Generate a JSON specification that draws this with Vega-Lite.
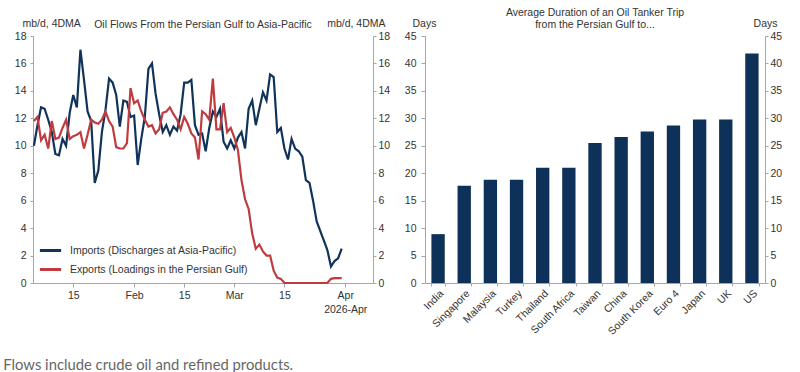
{
  "$schema": "https://vega.github.io/schema/vega-lite/v6.json",
  "background": "white",
  "padding": {"left": 3, "top": 8, "right": 0, "bottom": 0},
  "bounds": "flush",
  "spacing": 52,
  "config": {
    "view": {"stroke": null},
    "font": "Liberation Sans",
    "axis": {
      "labelFont": "Liberation Sans", "labelFontSize": 10.5, "labelColor": "#333333",
      "titleFont": "Liberation Sans", "titleFontSize": 10.5, "titleFontWeight": "normal", "titleColor": "#333333",
      "domainColor": "#a6a6a6", "tickColor": "#a6a6a6", "grid": false, "tickSize": 3
    },
    "title": {"font": "Liberation Sans", "fontSize": 10.5, "fontWeight": "normal", "color": "#333333"}
  },
  "title": {
    "text": "Flows include crude oil and refined products.",
    "orient": "bottom", "anchor": "start", "frame": "bounds",
    "font": "Lato", "fontSize": 14.8, "color": "#666666", "offset": 21, "dx": -11
  },
  "datasets": {
    "flows": [
      {"date": "2026-01-04", "imports": 10.0, "exports": 11.8},
      {"date": "2026-01-05", "imports": 11.5, "exports": 12.1},
      {"date": "2026-01-06", "imports": 12.8, "exports": 10.4},
      {"date": "2026-01-07", "imports": 12.7, "exports": 10.8},
      {"date": "2026-01-08", "imports": 11.9, "exports": 9.8},
      {"date": "2026-01-09", "imports": 11.0, "exports": 11.8},
      {"date": "2026-01-10", "imports": 9.4, "exports": 10.5},
      {"date": "2026-01-11", "imports": 9.3, "exports": 10.6},
      {"date": "2026-01-12", "imports": 10.5, "exports": 11.3},
      {"date": "2026-01-13", "imports": 10.0, "exports": 11.9},
      {"date": "2026-01-14", "imports": 12.4, "exports": 10.5},
      {"date": "2026-01-15", "imports": 13.7, "exports": 10.7},
      {"date": "2026-01-16", "imports": 12.8, "exports": 10.8},
      {"date": "2026-01-17", "imports": 17.0, "exports": 11.0},
      {"date": "2026-01-18", "imports": 14.8, "exports": 9.8},
      {"date": "2026-01-19", "imports": 12.5, "exports": 10.8},
      {"date": "2026-01-20", "imports": 11.8, "exports": 11.9},
      {"date": "2026-01-21", "imports": 7.3, "exports": 11.7},
      {"date": "2026-01-22", "imports": 8.2, "exports": 11.6},
      {"date": "2026-01-23", "imports": 11.0, "exports": 11.9},
      {"date": "2026-01-24", "imports": 12.6, "exports": 12.5},
      {"date": "2026-01-25", "imports": 14.9, "exports": 11.8},
      {"date": "2026-01-26", "imports": 14.6, "exports": 11.4},
      {"date": "2026-01-27", "imports": 13.7, "exports": 9.9},
      {"date": "2026-01-28", "imports": 11.4, "exports": 9.8},
      {"date": "2026-01-29", "imports": 13.3, "exports": 9.8},
      {"date": "2026-01-30", "imports": 13.2, "exports": 10.2},
      {"date": "2026-01-31", "imports": 12.1, "exports": 14.2},
      {"date": "2026-02-01", "imports": 12.2, "exports": 13.1},
      {"date": "2026-02-02", "imports": 8.6, "exports": 13.3},
      {"date": "2026-02-03", "imports": 10.5, "exports": 12.5},
      {"date": "2026-02-04", "imports": 12.1, "exports": 11.9},
      {"date": "2026-02-05", "imports": 15.6, "exports": 11.4},
      {"date": "2026-02-06", "imports": 16.0, "exports": 11.5},
      {"date": "2026-02-07", "imports": 13.8, "exports": 10.9},
      {"date": "2026-02-08", "imports": 12.3, "exports": 11.2},
      {"date": "2026-02-09", "imports": 11.0, "exports": 12.4},
      {"date": "2026-02-10", "imports": 11.5, "exports": 12.5},
      {"date": "2026-02-11", "imports": 10.8, "exports": 12.8},
      {"date": "2026-02-12", "imports": 11.4, "exports": 12.3},
      {"date": "2026-02-13", "imports": 11.1, "exports": 11.9},
      {"date": "2026-02-14", "imports": 12.3, "exports": 11.2},
      {"date": "2026-02-15", "imports": 14.6, "exports": 12.1},
      {"date": "2026-02-16", "imports": 14.6, "exports": 11.6},
      {"date": "2026-02-17", "imports": 14.8, "exports": 10.9},
      {"date": "2026-02-18", "imports": 11.5, "exports": 10.6},
      {"date": "2026-02-19", "imports": 10.8, "exports": 9.0},
      {"date": "2026-02-20", "imports": 10.9, "exports": 12.5},
      {"date": "2026-02-21", "imports": 9.6, "exports": 12.3},
      {"date": "2026-02-22", "imports": 11.3, "exports": 11.9},
      {"date": "2026-02-23", "imports": 12.5, "exports": 14.9},
      {"date": "2026-02-24", "imports": 12.1, "exports": 11.2},
      {"date": "2026-02-25", "imports": 12.7, "exports": 11.2},
      {"date": "2026-02-26", "imports": 10.3, "exports": 13.1},
      {"date": "2026-02-27", "imports": 9.8, "exports": 11.0},
      {"date": "2026-02-28", "imports": 10.4, "exports": 11.3},
      {"date": "2026-03-01", "imports": 9.8, "exports": 10.6},
      {"date": "2026-03-02", "imports": 10.6, "exports": 9.7},
      {"date": "2026-03-03", "imports": 11.0, "exports": 7.5},
      {"date": "2026-03-04", "imports": 9.8, "exports": 6.1},
      {"date": "2026-03-05", "imports": 12.7, "exports": 5.4},
      {"date": "2026-03-06", "imports": 13.3, "exports": 3.6},
      {"date": "2026-03-07", "imports": 11.5, "exports": 2.5},
      {"date": "2026-03-08", "imports": 12.7, "exports": 2.8},
      {"date": "2026-03-09", "imports": 13.9, "exports": 2.3},
      {"date": "2026-03-10", "imports": 13.3, "exports": 2.0},
      {"date": "2026-03-11", "imports": 15.2, "exports": 2.0},
      {"date": "2026-03-12", "imports": 15.0, "exports": 0.9},
      {"date": "2026-03-13", "imports": 11.0, "exports": 0.4},
      {"date": "2026-03-14", "imports": 11.3, "exports": 0.3},
      {"date": "2026-03-15", "imports": 9.8, "exports": 0},
      {"date": "2026-03-16", "imports": 9.0, "exports": 0},
      {"date": "2026-03-17", "imports": 10.5, "exports": 0},
      {"date": "2026-03-18", "imports": 9.8, "exports": 0},
      {"date": "2026-03-19", "imports": 9.6, "exports": 0},
      {"date": "2026-03-20", "imports": 9.2, "exports": 0},
      {"date": "2026-03-21", "imports": 7.5, "exports": 0},
      {"date": "2026-03-22", "imports": 7.3, "exports": 0},
      {"date": "2026-03-23", "imports": 6.0, "exports": 0},
      {"date": "2026-03-24", "imports": 4.5, "exports": 0},
      {"date": "2026-03-25", "imports": 3.8, "exports": 0},
      {"date": "2026-03-26", "imports": 3.1, "exports": 0},
      {"date": "2026-03-27", "imports": 2.4, "exports": 0},
      {"date": "2026-03-28", "imports": 1.2, "exports": 0.3},
      {"date": "2026-03-29", "imports": 1.6, "exports": 0.35},
      {"date": "2026-03-30", "imports": 1.8, "exports": 0.35},
      {"date": "2026-03-31", "imports": 2.5, "exports": 0.35}
    ],
    "trips": [
      {"country": "India", "days": 8.9},
      {"country": "Singapore", "days": 17.7},
      {"country": "Malaysia", "days": 18.8},
      {"country": "Turkey", "days": 18.8},
      {"country": "Thailand", "days": 21.0},
      {"country": "South Africa", "days": 21.0},
      {"country": "Taiwan", "days": 25.5},
      {"country": "China", "days": 26.6},
      {"country": "South Korea", "days": 27.6},
      {"country": "Euro 4", "days": 28.7},
      {"country": "Japan", "days": 29.8},
      {"country": "UK", "days": 29.8},
      {"country": "US", "days": 41.8}
    ]
  },
  "hconcat": [
    {
      "width": 340,
      "height": 247,
      "title": {"text": "Oil Flows From the Persian Gulf to Asia-Pacific", "anchor": "middle", "frame": "group", "baseline": "alphabetic", "offset": -20},
      "data": {"name": "flows"},
      "encoding": {
        "x": {
          "field": "date", "type": "temporal",
          "scale": {"type": "utc", "domain": [{"year": 2026, "month": 1, "date": 3, "hours": 18, "utc": true}, {"year": 2026, "month": 4, "date": 8, "hours": 18, "utc": true}]},
          "axis": {
            "title": null, "tickSize": 4, "labelPadding": 3, "labelLineHeight": 14,
            "values": [
              {"year": 2026, "month": 1, "date": 15, "utc": true},
              {"year": 2026, "month": 2, "date": 1, "utc": true},
              {"year": 2026, "month": 2, "date": 15, "utc": true},
              {"year": 2026, "month": 3, "date": 1, "utc": true},
              {"year": 2026, "month": 3, "date": 15, "utc": true},
              {"year": 2026, "month": 4, "date": 1, "utc": true}
            ],
            "labelExpr": "utcdate(datum.value) == 15 ? '15' : (utcmonth(datum.value) == 3 ? ['Apr', '\u00a0\u00a0\u00a0\u00a02026-Apr'] : utcFormat(datum.value, '%b'))"
          }
        }
      },
      "layer": [
        {
          "mark": {"type": "line", "strokeWidth": 2.2},
          "encoding": {
            "y": {
              "field": "imports", "type": "quantitative", "scale": {"domain": [0, 18]},
              "axis": {"orient": "left", "title": "mb/d, 4DMA", "titleAngle": 0, "titleAlign": "left", "titleBaseline": "alphabetic", "titleX": -11, "titleY": -9.5, "values": [0, 2, 4, 6, 8, 10, 12, 14, 16, 18], "labelPadding": 4}
            },
            "color": {
              "datum": "Imports (Discharges at Asia-Pacific)",
              "scale": {"domain": ["Imports (Discharges at Asia-Pacific)", "Exports (Loadings in the Persian Gulf)"], "range": ["#10335a", "#bf3b40"]},
              "legend": {"title": null, "orient": "none", "legendX": 5, "legendY": 202, "symbolType": "stroke", "symbolStrokeWidth": 3, "symbolSize": 450, "labelFont": "Liberation Sans", "labelFontSize": 10.5, "labelColor": "#333333", "labelLimit": 400, "rowPadding": -2, "labelOffset": 7}
            }
          }
        },
        {
          "mark": {"type": "line", "strokeWidth": 2.2},
          "encoding": {
            "y": {
              "field": "exports", "type": "quantitative", "scale": {"domain": [0, 18]},
              "axis": {"orient": "right", "title": "mb/d, 4DMA", "titleAngle": 0, "titleAlign": "right", "titleBaseline": "alphabetic", "titleX": 12, "titleY": -9.5, "values": [0, 2, 4, 6, 8, 10, 12, 14, 16, 18], "labelPadding": 2}
            },
            "color": {"datum": "Exports (Loadings in the Persian Gulf)"}
          }
        }
      ],
      "resolve": {"scale": {"y": "independent"}}
    },
    {
      "width": 340,
      "height": 247,
      "title": {"text": ["Average Duration of an Oil Tanker Trip", "from the Persian Gulf to..."], "anchor": "middle", "frame": "group", "baseline": "alphabetic", "offset": -20, "lineHeight": 12},
      "data": {"name": "trips"},
      "encoding": {
        "x": {
          "field": "country", "type": "nominal", "sort": null,
          "scale": {"paddingInner": 0.49, "paddingOuter": 0.245},
          "axis": {"title": null, "labelAngle": -45, "tickBand": "extent", "tickSize": 3, "labelPadding": 2}
        }
      },
      "layer": [
        {
          "mark": {"type": "bar", "color": "#0d3158"},
          "encoding": {
            "y": {
              "field": "days", "type": "quantitative", "scale": {"domain": [0, 45]},
              "axis": {"orient": "left", "title": "Days", "titleAngle": 0, "titleAlign": "left", "titleBaseline": "alphabetic", "titleX": -13, "titleY": -9.5, "values": [0, 5, 10, 15, 20, 25, 30, 35, 40, 45], "labelPadding": 5, "tickSize": 4}
            }
          }
        },
        {
          "mark": {"type": "bar", "color": "#0d3158", "opacity": 0},
          "encoding": {
            "y": {
              "field": "days", "type": "quantitative", "scale": {"domain": [0, 45]},
              "axis": {"orient": "right", "title": "Days", "titleAngle": 0, "titleAlign": "right", "titleBaseline": "alphabetic", "titleX": 12, "titleY": -9.5, "values": [0, 5, 10, 15, 20, 25, 30, 35, 40, 45], "labelPadding": 2}
            }
          }
        }
      ],
      "resolve": {"scale": {"y": "independent"}}
    }
  ]
}
